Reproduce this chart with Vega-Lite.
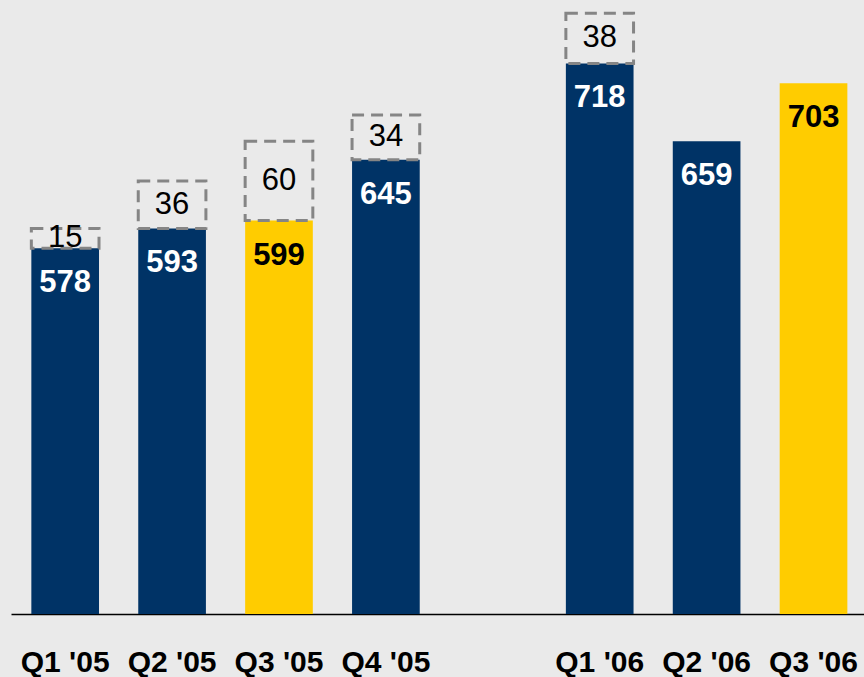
{
  "$schema": "https://vega.github.io/schema/vega-lite/v6.json",
  "width": 853,
  "height": 614,
  "autosize": {"type": "none"},
  "padding": {"left": 11, "top": 0, "right": 0, "bottom": 63},
  "background": "#eaeaea",
  "config": {
    "view": {"stroke": null},
    "font": "Liberation Sans"
  },
  "data": {
    "values": [
      {"quarter": "Q1 '05", "part": "base", "amount": 578, "highlight": "no"},
      {"quarter": "Q2 '05", "part": "base", "amount": 593, "highlight": "no"},
      {"quarter": "Q3 '05", "part": "base", "amount": 599, "highlight": "yes"},
      {"quarter": "Q4 '05", "part": "base", "amount": 645, "highlight": "no"},
      {"quarter": "Q1 '06", "part": "base", "amount": 718, "highlight": "no"},
      {"quarter": "Q2 '06", "part": "base", "amount": 659, "highlight": "no"},
      {"quarter": "Q3 '06", "part": "base", "amount": 703, "highlight": "yes"},
      {"quarter": "Q1 '05", "part": "extra", "amount": 15, "highlight": "no"},
      {"quarter": "Q2 '05", "part": "extra", "amount": 36, "highlight": "no"},
      {"quarter": "Q3 '05", "part": "extra", "amount": 60, "highlight": "yes"},
      {"quarter": "Q4 '05", "part": "extra", "amount": 34, "highlight": "no"},
      {"quarter": "Q1 '06", "part": "extra", "amount": 38, "highlight": "no"}
    ]
  },
  "encoding": {
    "x": {
      "field": "quarter",
      "type": "nominal",
      "sort": null,
      "scale": {
        "domain": ["Q1 '05", "Q2 '05", "Q3 '05", "Q4 '05", "gap", "Q1 '06", "Q2 '06", "Q3 '06"],
        "paddingInner": 0.367,
        "paddingOuter": 0.173,
        "align": 0.55
      },
      "axis": {
        "title": null,
        "labelAngle": 0,
        "labelExpr": "datum.value == 'gap' ? '' : datum.value",
        "labelFont": "Liberation Sans",
        "labelFontSize": 30,
        "labelFontWeight": "bold",
        "labelColor": "#000000",
        "labelBaseline": "alphabetic",
        "labelPadding": 57,
        "ticks": false,
        "tickSize": 0,
        "domainColor": "#000000",
        "domainWidth": 1.5,
        "grid": false
      }
    }
  },
  "layer": [
    {
      "mark": {"type": "bar", "clip": true},
      "encoding": {
        "y": {
          "field": "amount",
          "type": "quantitative",
          "stack": "zero",
          "scale": {"domain": [301, 766], "zero": false, "nice": false},
          "axis": null
        },
        "order": {"field": "part", "sort": "ascending"},
        "detail": {"field": "part"},
        "fill": {
          "condition": {"test": "datum.part == 'extra'", "value": "transparent"},
          "field": "highlight",
          "type": "nominal",
          "scale": {"domain": ["no", "yes"], "range": ["#003366", "#ffcc00"]},
          "legend": null
        },
        "stroke": {
          "condition": {"test": "datum.part == 'extra'", "value": "#858585"},
          "value": null
        },
        "strokeWidth": {
          "condition": {"test": "datum.part == 'extra'", "value": 3},
          "value": 0
        },
        "strokeDash": {
          "condition": {"test": "datum.part == 'extra'", "value": [12, 7]},
          "value": [1, 0]
        }
      }
    },
    {
      "transform": [{"filter": "datum.part == 'base'"}],
      "mark": {
        "type": "text",
        "font": "Liberation Sans",
        "fontSize": 31,
        "fontWeight": "bold",
        "baseline": "alphabetic",
        "align": "center",
        "dy": 44
      },
      "encoding": {
        "y": {"field": "amount", "type": "quantitative", "stack": null},
        "text": {"field": "amount", "type": "quantitative"},
        "color": {
          "condition": {"test": "datum.highlight == 'yes'", "value": "#000000"},
          "value": "#ffffff"
        }
      }
    },
    {
      "mark": {
        "type": "text",
        "font": "Liberation Sans",
        "fontSize": 31,
        "baseline": "middle",
        "align": "center",
        "color": "#000000"
      },
      "encoding": {
        "y": {"field": "amount", "type": "quantitative", "stack": "zero", "bandPosition": 0.5},
        "order": {"field": "part", "sort": "ascending"},
        "detail": {"field": "part"},
        "text": {
          "condition": {"test": "datum.part == 'extra'", "field": "amount", "type": "quantitative"},
          "value": ""
        }
      }
    }
  ]
}
